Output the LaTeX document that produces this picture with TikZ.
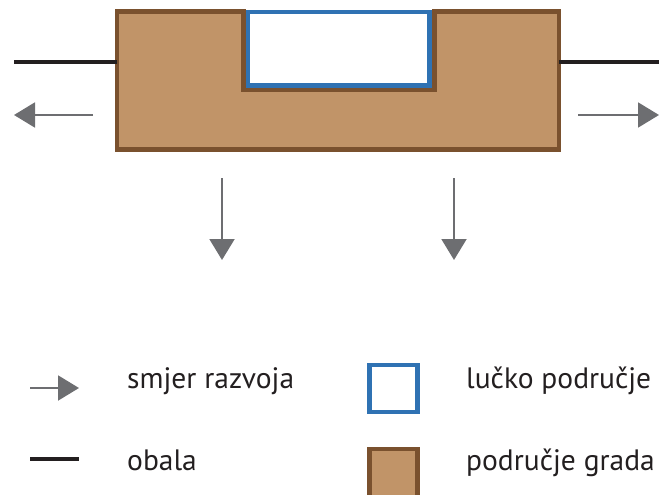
\documentclass[tikz,border=0pt]{standalone}
\usepackage{fontspec}
\setmainfont{PT Sans}
\usetikzlibrary{arrows.meta}
\definecolor{tan}{HTML}{C19468}
\definecolor{tanedge}{HTML}{7A512E}
\definecolor{portblue}{HTML}{2F72B3}
\definecolor{arrowgray}{HTML}{6D6E71}
\definecolor{coast}{HTML}{231F20}
\tikzset{
  devarrow/.style={draw=arrowgray, line width=2pt, -{Triangle[length=21pt,width=25pt]}, arrowgray},
  coastline/.style={draw=coast, line width=4pt},
  cityarea/.style={fill=tan, draw=tanedge, line width=4.5pt},
  portarea/.style={fill=white, draw=portblue, line width=4.5pt},
  legtext/.style={anchor=base west, inner sep=0pt, font=\fontsize{29.5}{31}\selectfont, text=coast},
}
\begin{document}
\begin{tikzpicture}[x=1pt,y=-1pt]
\useasboundingbox (0,0) rectangle (659,495);
% city area
\draw[cityarea] (117,11.5) -- (243.5,11.5) -- (243.5,90) -- (434.5,90) -- (434.5,11.5) -- (559,11.5) -- (559,149.5) -- (117,149.5) -- cycle;
% port area
\draw[portarea] (248,12) rectangle (429.5,85.5);
% coast
\coordinate (cl1) at (14,62); \coordinate (cl2) at (117,62);
\coordinate (cr1) at (559,62); \coordinate (cr2) at (659,62);
\draw[coastline] (cl1) -- (cl2);
\draw[coastline] (cr1) -- (cr2);
% development arrows
\coordinate (la0) at (93,115); \coordinate (la1) at (14,115);
\coordinate (ra0) at (578,115); \coordinate (ra1) at (659,115);
\coordinate (da0) at (222,178); \coordinate (da1) at (222,260);
\coordinate (db0) at (454,178); \coordinate (db1) at (454,260);
\draw[devarrow] (la0) -- (la1);
\draw[devarrow] (ra0) -- (ra1);
\draw[devarrow] (da0) -- (da1);
\draw[devarrow] (db0) -- (db1);
% legend
\coordinate (lg0) at (30,388); \coordinate (lg1) at (79,388);
\draw[devarrow] (lg0) -- (lg1);
\node[legtext] (t1) at (127,388) {smjer razvoja};
\coordinate (lo0) at (30,459); \coordinate (lo1) at (79,459);
\draw[coastline] (lo0) -- (lo1);
\node[legtext] (t2) at (127,470) {obala};
\draw[portarea] (369.5,365) rectangle (417.5,412);
\node[legtext] (t3) at (466,388) {lučko područje};
\draw[cityarea] (369.5,449) rectangle (417.5,500);
\node[legtext] (t4) at (466,470) {područje grada};
\end{tikzpicture}
\end{document}
